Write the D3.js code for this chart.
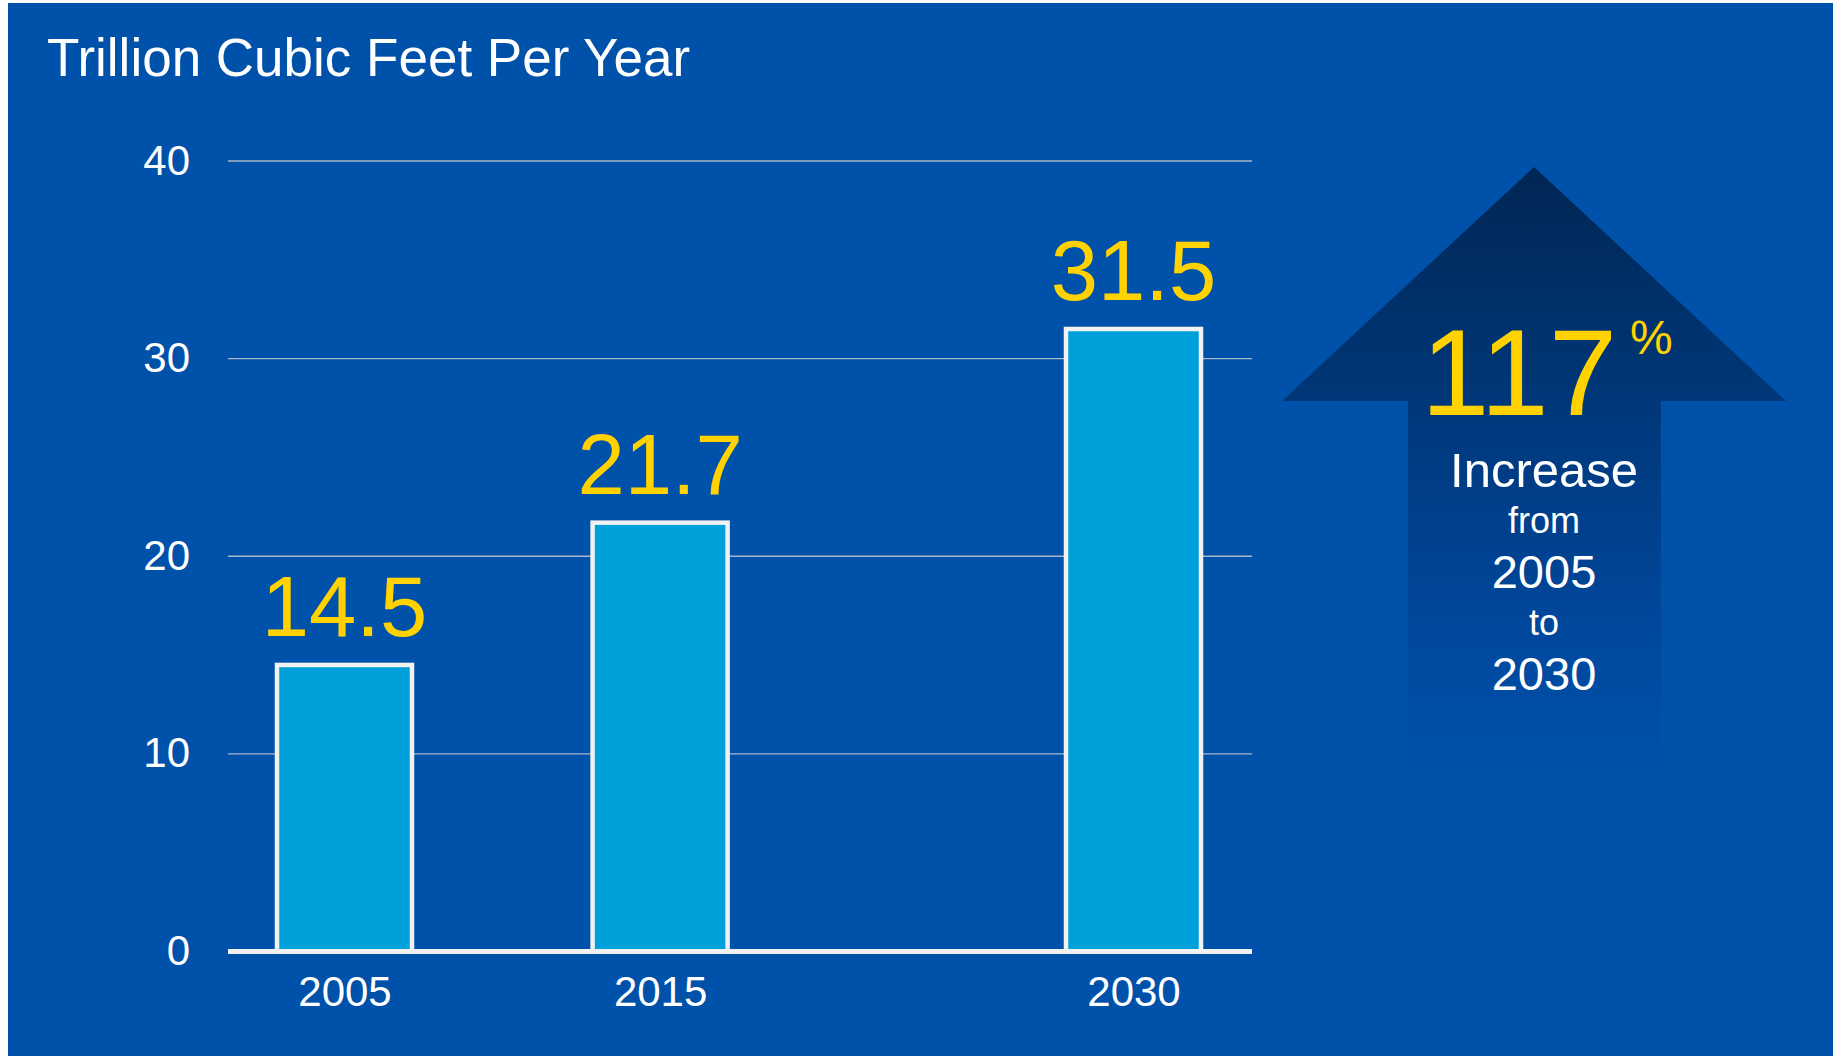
<!DOCTYPE html>
<html>
<head>
<meta charset="utf-8">
<script src="https://cdn.jsdelivr.net/npm/d3@7"></script>
<style>
  html, body { margin: 0; padding: 0; background: #ffffff; }
  svg { display: block; }
  text { font-family: "Liberation Sans", Arial, sans-serif; }
</style>
</head>
<body>
<script>
// Natural gas consumption, trillion cubic feet per year
const years = [2005, 2015, 2030];
const values = [14.5, 21.7, 31.5];
const valueLabels = ["14.5", "21.7", "31.5"];
const yTicks = [0, 10, 20, 30, 40];
const title = "Trillion Cubic Feet Per Year";
const increaseValue = "117";
const increaseLines = ["Increase", "from", "2005", "to", "2030"];

const W = 1833, H = 1056;
const bg = "#0051a9";

const svg = d3.select("body").append("svg")
  .attr("width", W).attr("height", H);

// panel with a thin white margin on the left and top
svg.append("rect").attr("x", 8).attr("y", 3).attr("width", W - 8).attr("height", H - 3).attr("fill", bg);

svg.append("text")
  .attr("x", 47).attr("y", 76)
  .attr("fill", "#ffffff")
  .attr("font-size", 53)
  .text(title);

// scales
const x = d3.scaleLinear().domain([2005, 2030]).range([344.5, 1133.5]);
const y = d3.scaleLinear().domain([0, 40]).range([951.5, 161]);
const barW = 135;
const axisLeft = 228, axisRight = 1252;

// horizontal gridlines
const grid = svg.append("g");
grid.selectAll("line").data(yTicks.filter(d => d > 0)).join("line")
  .attr("x1", axisLeft).attr("x2", axisRight)
  .attr("y1", d => y(d)).attr("y2", d => y(d))
  .attr("stroke", "#a9b6cc").attr("stroke-width", 1.4);

// y axis labels
const yAxis = d3.axisLeft(y).tickValues(yTicks).tickSize(0).tickPadding(0);
const gy = svg.append("g").attr("transform", `translate(190,0)`).call(yAxis);
gy.select(".domain").remove();
gy.selectAll("text")
  .attr("fill", "#ffffff")
  .attr("font-size", 42)
  .attr("font-family", "Liberation Sans, Arial, sans-serif")
  .attr("dy", "0.31em");

// bars
const data = years.map((yr, i) => ({ yr, v: values[i], label: valueLabels[i] }));
svg.append("g").selectAll("rect").data(data).join("rect")
  .attr("x", d => x(d.yr) - barW / 2)
  .attr("width", barW)
  .attr("y", d => y(d.v))
  .attr("height", d => y(0) - y(d.v))
  .attr("fill", "#00a0da")
  .attr("stroke", "#f2f2f2")
  .attr("stroke-width", 4.5);

// baseline
svg.append("line")
  .attr("x1", axisLeft).attr("x2", axisRight)
  .attr("y1", y(0)).attr("y2", y(0))
  .attr("stroke", "#f2f2f2").attr("stroke-width", 5);

// x axis labels
const xAxis = d3.axisBottom(x).tickValues(years).tickFormat(d3.format("d")).tickSize(0).tickPadding(0);
const gx = svg.append("g").attr("transform", `translate(0,${y(0)})`).call(xAxis);
gx.select(".domain").remove();
gx.selectAll("text")
  .attr("fill", "#ffffff")
  .attr("font-size", 42)
  .attr("font-family", "Liberation Sans, Arial, sans-serif")
  .attr("y", 54).attr("dy", 0);

// value labels above bars
svg.append("g").selectAll("text").data(data).join("text")
  .attr("x", d => x(d.yr))
  .attr("y", d => y(d.v) - 29)
  .attr("text-anchor", "middle")
  .attr("fill", "#ffd200")
  .attr("font-size", 85)
  .text(d => d.label);

// increase arrow with a fading vertical gradient
const defs = svg.append("defs");
const grad = defs.append("linearGradient").attr("id", "arrowFill")
  .attr("gradientUnits", "userSpaceOnUse")
  .attr("x1", 0).attr("y1", 167).attr("x2", 0).attr("y2", 770);
grad.append("stop").attr("offset", 0).attr("stop-color", "#002654");
grad.append("stop").attr("offset", 0.4).attr("stop-color", "#00387a");
grad.append("stop").attr("offset", 0.8).attr("stop-color", "#0049a0");
grad.append("stop").attr("offset", 1).attr("stop-color", bg);

const ax = 1534, apexY = 167, headY = 401, headL = 1282, headR = 1786, shaftL = 1408, shaftR = 1661, shaftB = 770;
const arrow = d3.path();
arrow.moveTo(ax, apexY);
arrow.lineTo(headR, headY);
arrow.lineTo(shaftR, headY);
arrow.lineTo(shaftR, shaftB);
arrow.lineTo(shaftL, shaftB);
arrow.lineTo(shaftL, headY);
arrow.lineTo(headL, headY);
arrow.closePath();
svg.append("path").attr("d", arrow.toString()).attr("fill", "url(#arrowFill)");

svg.append("text")
  .attr("x", 1421).attr("y", 415)
  .attr("fill", "#ffd200").attr("font-size", 123)
  .text(increaseValue);
svg.append("text")
  .attr("x", 1630).attr("y", 354)
  .attr("fill", "#ffd200").attr("font-size", 48)
  .text("%");

const lineSpec = [
  { y: 487, size: 49 },
  { y: 533, size: 36 },
  { y: 588, size: 47 },
  { y: 635, size: 36 },
  { y: 690, size: 47 }
];
svg.append("g").selectAll("text").data(increaseLines).join("text")
  .attr("x", 1544)
  .attr("y", (d, i) => lineSpec[i].y)
  .attr("font-size", (d, i) => lineSpec[i].size)
  .attr("text-anchor", "middle")
  .attr("fill", "#ffffff")
  .text(d => d);
</script>
</body>
</html>
